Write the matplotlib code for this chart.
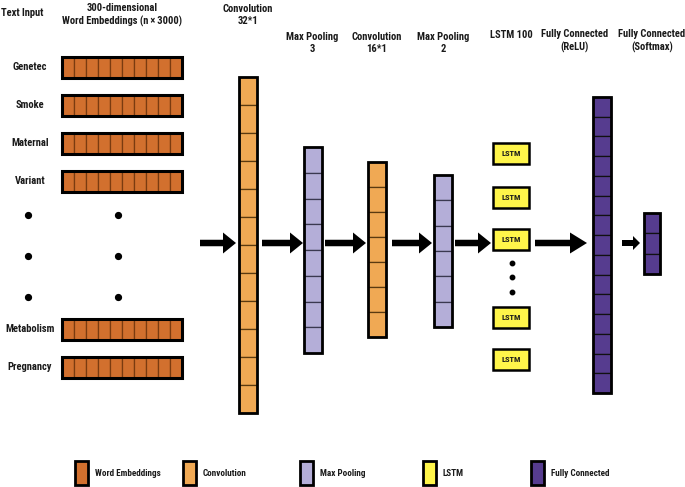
import matplotlib
matplotlib.use("Agg")
import matplotlib.pyplot as plt
from matplotlib.patches import Rectangle

FONT = ['Roboto Condensed', 'DejaVu Sans']

# ---- content ----
words_top = ["Genetec", "Smoke", "Maternal", "Variant"]
words_bottom = ["Metabolism", "Pregnancy"]
embed_cells = 10
layer_titles = ["Convolution\n32*1", "Max Pooling\n3", "Convolution\n16*1", "Max Pooling\n2",
                "LSTM 100", "Fully Connected\n(ReLU)", "Fully Connected\n(Softmax)"]
layer_cells = [12, 8, 7, 6, 15, 3]          # conv1, pool1, conv2, pool2, fc1, fc2
lstm_label = "LSTM"
legend_labels = ["Word Embeddings", "Convolution", "Max Pooling", "LSTM", "Fully Connected"]

C_EMB = "#D2702E"
C_CONV = "#F0A954"
C_POOL = "#B4AED8"
C_LSTM = "#FFF54A"
C_FC = "#563C8F"
legend_colors = [C_EMB, C_CONV, C_POOL, C_LSTM, C_FC]

# ---- layout (pixel coordinates) ----
W, H = 685, 487
fig = plt.figure(figsize=(W / 100, H / 100), dpi=100)
ax = fig.add_axes([0, 0, 1, 1])
ax.set_xlim(0, W)
ax.set_ylim(H, 0)
ax.axis("off")

def txt(x, y, s, size=7.6, ha="center", va="center", weight="bold"):
    ax.text(x, y, s, fontsize=size, ha=ha, va=va, fontweight=weight,
            family=FONT, linespacing=1.3, color="#1a1a1a")

def column(x0, x1, y0, y1, n, face, sep, lw=2.0):
    h = (y1 - y0) / n
    for i in range(n):
        ax.add_patch(Rectangle((x0, y0 + i * h), x1 - x0, h, facecolor=face,
                               edgecolor=sep, lw=0.9))
    ax.add_patch(Rectangle((x0, y0), x1 - x0, y1 - y0, facecolor="none",
                           edgecolor="black", lw=lw))

def row(x0, x1, y0, y1, n, face, sep, lw=2.2):
    w = (x1 - x0) / n
    for i in range(n):
        ax.add_patch(Rectangle((x0 + i * w, y0), w, y1 - y0, facecolor=face,
                               edgecolor=sep, lw=0.9))
    ax.add_patch(Rectangle((x0, y0), x1 - x0, y1 - y0, facecolor="none",
                           edgecolor="black", lw=lw))

def arrow(x0, x1, y, width=6.5, hw=21, hl=13):
    ax.arrow(x0, y, x1 - x0, 0, width=width, head_width=hw, head_length=hl,
             length_includes_head=True, color="black", lw=0)

# headers
txt(22, 13, "Text Input")
txt(122, 15, "300-dimensional\nWord Embeddings (n\u2009\u00d7\u20093000)")

# embeddings
top_y = [57, 95, 133, 171]
bot_y = [319, 357]
for lab, y in zip(words_top, top_y):
    row(62, 182, y, y + 21, embed_cells, C_EMB, "#7A3B10")
    txt(30, y + 10.5, lab)
for lab, y in zip(words_bottom, bot_y):
    row(62, 182, y, y + 21, embed_cells, C_EMB, "#7A3B10")
    txt(30, y + 10.5, lab)
for yy in [215, 256, 297]:
    ax.plot([28, 118], [yy, yy], "o", color="black", ms=4.2, ls="none")

# layers
cols = [
    (239, 257, 77, 413, C_CONV, "#5a3a10"),
    (304, 322, 147, 353, C_POOL, "#3a3850"),
    (368, 386, 162, 337, C_CONV, "#5a3a10"),
    (434, 452, 175, 327, C_POOL, "#3a3850"),
    (593, 611, 97, 393, C_FC, "#111111"),
    (644, 660, 213, 274, C_FC, "#111111"),
]
for (x0, x1, y0, y1, face, sep), n in zip(cols, layer_cells):
    column(x0, x1, y0, y1, n, face, sep)

title_pos = [(248, 15), (312, 43), (377, 43), (443, 43), (511, 35), (575, 41), (652, 41)]
for t, (x, y) in zip(layer_titles, title_pos):
    txt(x, y, t)

# LSTM boxes
lstm_y = [143, 187, 229, 307, 349]
for y in lstm_y:
    ax.add_patch(Rectangle((493, y), 36, 21, facecolor=C_LSTM, edgecolor="black", lw=1.8))
    txt(511, y + 10.5, lstm_label, size=6)
for yy in [263, 277, 292]:
    ax.plot([512], [yy], "o", color="black", ms=3.2)

# arrows
AY = 243
arrow(200, 236, AY)
arrow(262, 303, AY)
arrow(325, 366, AY)
arrow(392, 432, AY)
arrow(455, 491, AY)
arrow(535, 587, AY, width=6.5, hw=21, hl=17)
arrow(622, 640, AY, width=6, hw=14, hl=7)

# legend
leg_x = [75, 183, 300, 423, 531]
for x, lab, c in zip(leg_x, legend_labels, legend_colors):
    ax.add_patch(Rectangle((x, 461), 13, 24, facecolor=c, edgecolor="black", lw=2.0))
    txt(x + 20, 473, lab, size=6.6, ha="left")

fig.savefig("out.png", dpi=100)
